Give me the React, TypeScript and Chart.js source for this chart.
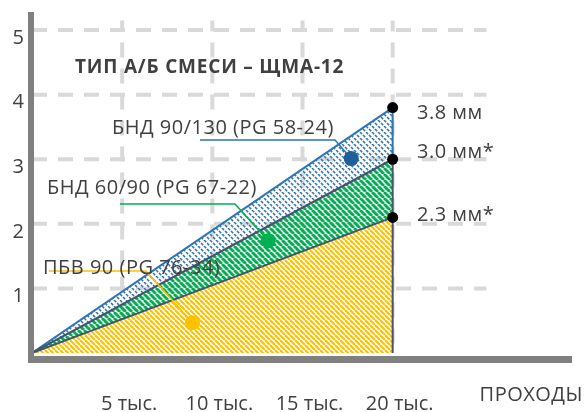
import React, { useEffect, useRef } from 'react';
import { Chart, registerables } from 'chart.js';

Chart.register(...registerables);

// ---- data ----
const xTickValues = [5000, 10000, 15000, 20000];
const xTickLabels = ['5 тыс.', '10 тыс.', '15 тыс.', '20 тыс.'];
const yTickValues = [1, 2, 3, 4, 5];
const seriesNames = ['ПБВ 90 (PG 76-34)', 'БНД 60/90 (PG 67-22)', 'БНД 90/130 (PG 58-24)'];
const passes = [0, 20000];
const rutPBV90 = [0, 2.1];
const rutBND6090 = [0, 3.0];
const rutBND90130 = [0, 3.8];
const endValues = [3.8, 3.0, 2.1];
const endLabels = ['3.8 мм', '3.0 мм*', '2.3 мм*'];
const calloutX = [8900, 13100, 17700];
const calloutY = [0.47, 1.74, 3.01];
const chartTitle = 'ТИП А/Б СМЕСИ – ЩМА-12';
const xAxisName = 'ПРОХОДЫ';

// ---- styles / layout ----
const FONT = '"Open Sans", sans-serif';
const TEXT = '#404040';
const SLATE = '#44546a';
const BLUE = '#2e75b6';
const GRID = '#d9d9d9';
const AXIS = '#808080';
const leaderColors = ['#ffc000', '#00b050', BLUE];
const dotColors = ['#ffc000', '#00b050', '#1f5f99'];
const calloutTextPos = [[43, 268], [47, 188], [112, 128]];
const calloutLine = [[49, 146, 271], [120, 235, 204], [200, 335, 140]];
const endLabelY = [113, 152, 215];

function stripes(color: string, bg: string | null, period: number, width: number, dash?: number[]) {
  const c = document.createElement('canvas');
  c.width = period;
  c.height = period;
  const g = c.getContext('2d')!;
  if (bg) {
    g.fillStyle = bg;
    g.fillRect(0, 0, period, period);
  }
  g.strokeStyle = color;
  g.lineWidth = width;
  if (dash) g.setLineDash(dash);
  for (let k = -1; k <= 1; k++) {
    g.beginPath();
    g.moveTo(k * period, 0);
    g.lineTo(k * period + period, period);
    g.stroke();
  }
  return g.createPattern(c, 'repeat')!;
}

const pts = (ys: number[]) => passes.map((x, i) => ({ x, y: ys[i] }));

export default function App() {
  const ref = useRef<HTMLCanvasElement>(null);

  useEffect(() => {
    if (!ref.current) return;
    const yellowPat = stripes('#ffc000', '#ffffff', 5, 2.1);
    const greenPat = stripes('#00b050', null, 6, 2.9);
    const bluePat = stripes(BLUE, null, 6, 1.5, [3, 1.243]);

    const decor = {
      id: 'decor',
      beforeDatasetsDraw(chart: any) {
        const { ctx, scales } = chart;
        const xs = scales.x, ys = scales.y;
        ctx.save();
        ctx.strokeStyle = GRID;
        ctx.lineWidth = 4;
        ctx.setLineDash([15, 11]);
        const x0 = xs.getPixelForValue(0);
        const xEnd = xs.getPixelForValue(25200);
        yTickValues.forEach((v) => {
          const y = ys.getPixelForValue(v);
          ctx.beginPath();
          ctx.moveTo(x0, y);
          ctx.lineTo(xEnd, y);
          ctx.stroke();
        });
        const yb = ys.getPixelForValue(0);
        const yt = ys.getPixelForValue(5.15);
        xTickValues.forEach((v) => {
          const x = xs.getPixelForValue(v);
          ctx.beginPath();
          ctx.lineDashOffset = 4;
          ctx.moveTo(x, yt);
          ctx.lineTo(x, yb);
          ctx.stroke();
        });
        ctx.restore();
      },
      beforeDatasetDraw(chart: any, args: any) {
        if (args.index !== 5) return;
        const { ctx, scales } = chart;
        const xs = scales.x, ys = scales.y;
        ctx.save();
        calloutX.forEach((cx, i) => {
          const [sx, ex, ly] = calloutLine[i];
          ctx.strokeStyle = leaderColors[i];
          ctx.lineWidth = 1.5;
          ctx.beginPath();
          ctx.moveTo(sx, ly);
          ctx.lineTo(ex, ly);
          ctx.lineTo(xs.getPixelForValue(cx), ys.getPixelForValue(calloutY[i]));
          ctx.stroke();
        });
        ctx.fillStyle = TEXT;
        ctx.textBaseline = 'middle';
        ctx.textAlign = 'left';
        ctx.font = `20px ${FONT}`;
        (ctx as any).letterSpacing = '0.5px';
        seriesNames.forEach((n, i) => {
          ctx.fillText(n, calloutTextPos[i][0], calloutTextPos[i][1]);
        });
        endLabels.forEach((t, i) => ctx.fillText(t, 417, endLabelY[i]));
        ctx.textAlign = 'right';
        ctx.fillText(xAxisName, 583, 395);
        ctx.textAlign = 'left';
        ctx.font = `bold 19px ${FONT}`;
        (ctx as any).letterSpacing = '0.8px';
        ctx.fillText(chartTitle, 75, 68);
        ctx.restore();
      },
      afterDatasetsDraw(chart: any) {
        const { ctx, chartArea } = chart;
        ctx.save();
        ctx.fillStyle = AXIS;
        ctx.fillRect(chartArea.left - 4, chartArea.top, 6, chartArea.bottom - chartArea.top + 10);
        ctx.fillRect(chartArea.left - 4, chartArea.bottom + 3, 572 - chartArea.left + 4, 7);
        ctx.restore();
      },
    };

    const chart = new Chart(ref.current, {
      type: 'line',
      data: {
        datasets: [
          {
            data: pts(rutPBV90),
            borderColor: SLATE,
            borderWidth: 2,
            backgroundColor: yellowPat,
            fill: 'origin',
            pointRadius: 0,
            order: 3,
          },
          {
            data: pts(rutBND6090),
            borderColor: SLATE,
            borderWidth: 2,
            backgroundColor: greenPat,
            fill: 0,
            pointRadius: 0,
            order: 3,
          },
          {
            data: pts(rutBND90130),
            borderColor: BLUE,
            borderWidth: 2,
            backgroundColor: bluePat,
            fill: 1,
            pointRadius: 0,
            order: 3,
          },
          {
            data: [
              { x: passes[1], y: 0 },
              { x: passes[1], y: rutBND6090[1] },
              { x: passes[1], y: rutBND90130[1] },
            ],
            borderWidth: 2,
            borderColor: SLATE,
            segment: { borderColor: (c: any) => (c.p0DataIndex === 1 ? BLUE : SLATE) },
            pointRadius: 0,
            fill: false,
            order: 2,
          },
          {
            data: endValues.map((y) => ({ x: passes[1], y })),
            showLine: false,
            pointRadius: 5.5,
            pointBackgroundColor: '#000000',
            pointBorderWidth: 0,
            fill: false,
            order: 1,
          },
          {
            data: calloutX.map((x, i) => ({ x, y: calloutY[i] })),
            showLine: false,
            pointRadius: 7.5,
            pointBackgroundColor: dotColors,
            pointBorderWidth: 0,
            fill: false,
            order: 0,
          },
        ],
      } as any,
      options: {
        responsive: false,
        animation: false,
        layout: { padding: { top: 12, right: 11, left: 0, bottom: 0 } },
        plugins: { legend: { display: false }, tooltip: { enabled: false }, title: { display: false } },
        scales: {
          x: {
            type: 'linear',
            min: 0,
            max: 30000,
            grid: { display: false },
            border: { display: false },
            afterBuildTicks: (s: any) => {
              s.ticks = xTickValues.map((v) => ({ value: v }));
            },
            afterFit: (s: any) => {
              s.height = 59;
              s.paddingLeft = 0;
              s.paddingRight = 0;
            },
            ticks: {
              autoSkip: false,
              maxRotation: 0,
              padding: 31,
              labelOffset: 7,
              color: TEXT,
              font: { family: FONT, size: 20 },
              callback: (v: any) => xTickLabels[xTickValues.indexOf(Number(v))] ?? '',
            },
          },
          y: {
            min: 0,
            max: 5.28,
            grid: { display: false },
            border: { display: false },
            afterBuildTicks: (s: any) => {
              s.ticks = yTickValues.map((v) => ({ value: v }));
            },
            afterFit: (s: any) => {
              s.width = 32;
              s.paddingTop = 0;
              s.paddingBottom = 0;
            },
            ticks: {
              padding: 0,
              labelOffset: 8,
              color: TEXT,
              font: { family: FONT, size: 20 },
              callback: (v: any) => String(v),
            },
          },
        },
      } as any,
      plugins: [decor],
    });
    return () => chart.destroy();
  }, []);

  return (
    <div style={{ position: 'absolute', left: 0, top: 0, width: 584, height: 412, background: '#fff' }}>
      <canvas ref={ref} width={584} height={412} style={{ width: 584, height: 412 }} />
    </div>
  );
}
